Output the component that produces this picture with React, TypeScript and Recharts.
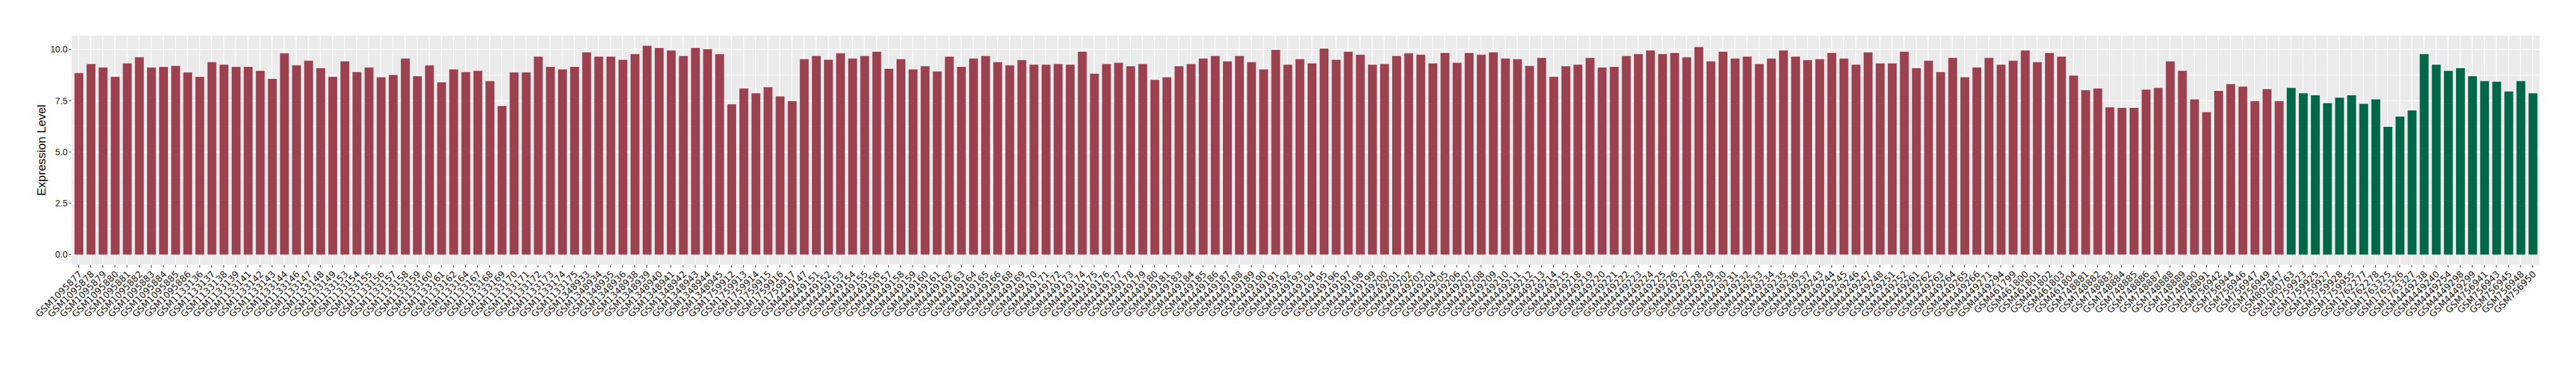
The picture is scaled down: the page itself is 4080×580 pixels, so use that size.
import { Bar, BarChart, CartesianGrid, Cell, Label, XAxis, YAxis } from 'recharts';

// tumour samples (red) and normal samples (green), in plot order
const tumorSamples = [
  'GSM1095877', 'GSM1095878', 'GSM1095879', 'GSM1095880', 'GSM1095881', 'GSM1095882', 'GSM1095883', 'GSM1095884',
  'GSM1095885', 'GSM1095886', 'GSM1133136', 'GSM1133137', 'GSM1133138', 'GSM1133139', 'GSM1133141', 'GSM1133142',
  'GSM1133143', 'GSM1133144', 'GSM1133146', 'GSM1133147', 'GSM1133148', 'GSM1133149', 'GSM1133153', 'GSM1133154',
  'GSM1133155', 'GSM1133156', 'GSM1133157', 'GSM1133158', 'GSM1133159', 'GSM1133160', 'GSM1133161', 'GSM1133162',
  'GSM1133164', 'GSM1133167', 'GSM1133168', 'GSM1133169', 'GSM1133170', 'GSM1133171', 'GSM1133172', 'GSM1133173',
  'GSM1133174', 'GSM1133175', 'GSM1348933', 'GSM1348934', 'GSM1348935', 'GSM1348936', 'GSM1348938', 'GSM1348939',
  'GSM1348940', 'GSM1348941', 'GSM1348942', 'GSM1348943', 'GSM1348944', 'GSM1348945', 'GSM1759912', 'GSM1759913',
  'GSM1759914', 'GSM1759915', 'GSM1759916', 'GSM1759917', 'GSM4449147', 'GSM4449151', 'GSM4449152', 'GSM4449153',
  'GSM4449154', 'GSM4449155', 'GSM4449156', 'GSM4449157', 'GSM4449158', 'GSM4449159', 'GSM4449160', 'GSM4449161',
  'GSM4449162', 'GSM4449163', 'GSM4449164', 'GSM4449165', 'GSM4449166', 'GSM4449168', 'GSM4449169', 'GSM4449170',
  'GSM4449171', 'GSM4449172', 'GSM4449173', 'GSM4449174', 'GSM4449175', 'GSM4449176', 'GSM4449177', 'GSM4449178',
  'GSM4449179', 'GSM4449180', 'GSM4449181', 'GSM4449183', 'GSM4449184', 'GSM4449185', 'GSM4449186', 'GSM4449187',
  'GSM4449188', 'GSM4449189', 'GSM4449190', 'GSM4449191', 'GSM4449192', 'GSM4449193', 'GSM4449194', 'GSM4449195',
  'GSM4449196', 'GSM4449197', 'GSM4449198', 'GSM4449199', 'GSM4449200', 'GSM4449201', 'GSM4449202', 'GSM4449203',
  'GSM4449204', 'GSM4449205', 'GSM4449206', 'GSM4449207', 'GSM4449208', 'GSM4449209', 'GSM4449210', 'GSM4449211',
  'GSM4449212', 'GSM4449213', 'GSM4449214', 'GSM4449215', 'GSM4449218', 'GSM4449219', 'GSM4449220', 'GSM4449221',
  'GSM4449222', 'GSM4449223', 'GSM4449224', 'GSM4449225', 'GSM4449226', 'GSM4449227', 'GSM4449228', 'GSM4449229',
  'GSM4449230', 'GSM4449231', 'GSM4449232', 'GSM4449233', 'GSM4449234', 'GSM4449235', 'GSM4449236', 'GSM4449237',
  'GSM4449243', 'GSM4449244', 'GSM4449245', 'GSM4449246', 'GSM4449247', 'GSM4449248', 'GSM4449251', 'GSM4449252',
  'GSM4449261', 'GSM4449262', 'GSM4449263', 'GSM4449264', 'GSM4449265', 'GSM4449266', 'GSM4449271', 'GSM4449294',
  'GSM461799', 'GSM461800', 'GSM461801', 'GSM461802', 'GSM461803', 'GSM461804', 'GSM748881', 'GSM748882',
  'GSM748883', 'GSM748884', 'GSM748885', 'GSM748886', 'GSM748887', 'GSM748888', 'GSM748889', 'GSM748890',
  'GSM748891', 'GSM756942', 'GSM756944', 'GSM756946', 'GSM756947', 'GSM756949', 'GSM802847',
];

const tumorValues = [
  8.85, 9.29, 9.12, 8.67, 9.32, 9.62, 9.12, 9.15, 9.2, 8.88, 8.67, 9.38, 9.26, 9.15, 9.15, 8.96,
  8.57, 9.81, 9.23, 9.45, 9.09, 8.67, 9.42, 8.9, 9.12, 8.64, 8.76, 9.56, 8.7, 9.23, 8.4, 9.03,
  8.9, 8.96, 8.46, 7.24, 8.88, 8.88, 9.65, 9.15, 9.03, 9.15, 9.86, 9.65, 9.65, 9.5, 9.77, 10.18,
  10.07, 9.95, 9.68, 10.07, 10.01, 9.77, 7.33, 8.1, 7.87, 8.16, 7.71, 7.48, 9.53, 9.68, 9.5, 9.81,
  9.56, 9.68, 9.89, 9.06, 9.53, 9.03, 9.18, 8.93, 9.65, 9.15, 9.56, 9.68, 9.38, 9.23, 9.48, 9.26,
  9.26, 9.29, 9.26, 9.89, 8.82, 9.29, 9.35, 9.18, 9.29, 8.52, 8.64, 9.18, 9.29, 9.56, 9.68, 9.42,
  9.68, 9.38, 9.03, 9.98, 9.26, 9.53, 9.32, 10.04, 9.5, 9.89, 9.74, 9.26, 9.29, 9.68, 9.81, 9.74,
  9.32, 9.83, 9.35, 9.83, 9.74, 9.86, 9.56, 9.53, 9.2, 9.59, 8.67, 9.18, 9.26, 9.59, 9.12, 9.15,
  9.68, 9.77, 9.95, 9.77, 9.83, 9.62, 10.12, 9.42, 9.89, 9.56, 9.65, 9.29, 9.56, 9.95, 9.65, 9.48,
  9.53, 9.83, 9.56, 9.26, 9.86, 9.32, 9.32, 9.89, 9.09, 9.45, 8.9, 9.59, 8.64, 9.12, 9.59, 9.26,
  9.45, 9.95, 9.38, 9.83, 9.65, 8.73, 8.01, 8.1, 7.18, 7.15, 7.15, 8.04, 8.13, 9.42, 8.96, 7.57,
  6.94, 7.98, 8.31, 8.19, 7.48, 8.07, 7.48,
];

const normalSamples = [
  'GSM1060763', 'GSM1759923', 'GSM1759925', 'GSM1759927', 'GSM1759928', 'GSM1759955', 'GSM1762277',
  'GSM1762278', 'GSM1763325', 'GSM1763326', 'GSM1763327', 'GSM4449238', 'GSM4449240', 'GSM4449254',
  'GSM4449298', 'GSM4449299', 'GSM756941', 'GSM756943', 'GSM756945', 'GSM756948', 'GSM756950',
];

const normalValues = [
  8.13, 7.87, 7.77, 7.38, 7.65, 7.77, 7.35, 7.57, 6.23, 6.73, 7.03, 9.77, 9.26, 8.96, 9.09, 8.7,
  8.46, 8.43, 7.95, 8.46, 7.87,
];

const yTicks = [0, 2.5, 5, 7.5, 10];
const yMinor = [1.25, 3.75, 6.25, 8.75];

const TUMOR_COLOR = '#9B4150';
const NORMAL_COLOR = '#006847';

interface Row {
  sample: string;
  value: number;
  group: 'tumor' | 'normal';
}

const rows: Row[] = [
  ...tumorSamples.map((s, i) => ({ sample: s, value: tumorValues[i], group: 'tumor' as const })),
  ...normalSamples.map((s, i) => ({ sample: s, value: normalValues[i], group: 'normal' as const })),
];

const maxVal = Math.max(...rows.map((r) => r.value));
const yDomain: [number, number] = [-0.05 * maxVal, maxVal * 1.05];

function SampleTick(props: any) {
  const { x, y, payload } = props;
  return (
    <text
      x={0}
      y={0}
      transform={`translate(${x - 1},${y + 2}) rotate(-45)`}
      textAnchor="end"
      dominantBaseline="hanging"
      fontFamily="'DejaVu Sans', sans-serif"
      fontSize={14.4}
      fill="#1a1a1a"
    >
      {payload.value}
    </text>
  );
}

export default function App() {
  return (
    <div style={{ position: 'absolute', left: 0, top: 0, width: 4080, height: 580, background: '#fff' }}>
      <BarChart
        width={4080}
        height={580}
        data={rows}
        margin={{ top: 56, right: 57, bottom: 0, left: 0 }}
        barSize={14}
      >
        <CartesianGrid
          fill="#EBEBEB"
          stroke="#ffffff"
          strokeWidth={0.7}
          vertical={false}
          horizontalValues={yMinor}
        />
        <CartesianGrid stroke="#ffffff" strokeWidth={1.4} fill="none" />
        <XAxis
          dataKey="sample"
          interval={0}
          tick={<SampleTick />}
          tickSize={4}
          tickLine={{ stroke: '#333', strokeWidth: 1 }}
          axisLine={false}
          height={160}
          padding={{ left: 2, right: 2 }}
        />
        <YAxis
          type="number"
          domain={yDomain}
          ticks={yTicks}
          allowDataOverflow
          width={113}
          tickSize={4}
          tickMargin={2}
          tickLine={{ stroke: '#333', strokeWidth: 1 }}
          axisLine={false}
          tickFormatter={(v: number) => v.toFixed(1)}
          tick={{ fill: '#1a1a1a', fontSize: 14, fontFamily: "'Liberation Sans', Arial, sans-serif" }}
        >
          <Label
            content={(p: any) => {
              const vb = p.viewBox ?? { x: 0, y: 56, height: 364 };
              const cx = 65;
              const cy = vb.y + vb.height / 2;
              return (
                <text
                  x={cx}
                  y={cy}
                  transform={`rotate(-90 ${cx} ${cy})`}
                  textAnchor="middle"
                  dominantBaseline="central"
                  fontFamily="'Liberation Sans', Arial, sans-serif"
                  fontSize={19}
                  fill="#000"
                >
                  Expression Level
                </text>
              );
            }}
          />
        </YAxis>
        <Bar dataKey="value" isAnimationActive={false}>
          {rows.map((r) => (
            <Cell key={r.sample} fill={r.group === 'tumor' ? TUMOR_COLOR : NORMAL_COLOR} />
          ))}
        </Bar>
      </BarChart>
    </div>
  );
}
